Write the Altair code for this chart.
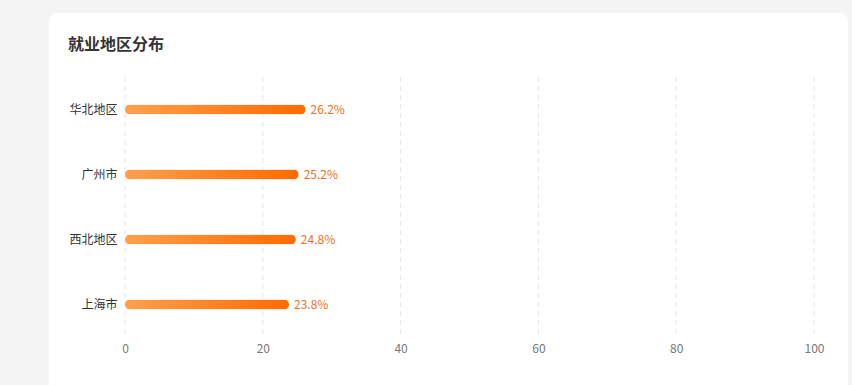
import altair as alt
import pandas as pd

regions = ["华北地区", "广州市", "西北地区", "上海市"]
shares = [26.2, 25.2, 24.8, 23.8]
x_ticks = [0, 20, 40, 60, 80, 100]
title_text = "就业地区分布"

df = pd.DataFrame({"region": regions, "share": shares})
df["label"] = df["share"].map(lambda v: f"{v:.1f}%")
grid_df = pd.DataFrame({"tick": x_ticks})

FONT = "Noto Sans CJK SC"

x_scale = alt.Scale(domain=[0, 100], nice=False)

card = alt.Chart(pd.DataFrame({"a": [0]})).mark_rect(
    color="white", cornerRadius=8
).encode(
    x=alt.value(-76), x2=alt.value(723), y=alt.value(-64), y2=alt.value(320)
)

title = alt.Chart(pd.DataFrame({"t": [title_text]})).mark_text(
    font=FONT, fontSize=16, fontWeight="bold", color="#333333", align="left", baseline="middle"
).encode(x=alt.value(-57), y=alt.value(-32), text="t:N")

grid = alt.Chart(grid_df).mark_rule(
    color="#e6e6e6", strokeDash=[5, 4], strokeWidth=1
).encode(
    x=alt.X("tick:Q", scale=x_scale,
            axis=alt.Axis(values=x_ticks, domain=False, ticks=False, grid=False, title=None,
                          labelFont=FONT, labelFontSize=12, labelColor="#777777",
                          labelFlush=False, labelPadding=6, zindex=1)),
    y=alt.value(0), y2=alt.value(260),
)

y_enc = alt.Y(
    "region:N", sort=regions, title=None,
    scale=alt.Scale(paddingInner=0, paddingOuter=0),
    axis=alt.Axis(domain=False, ticks=False, grid=False, labelFont=FONT, labelFontSize=12,
                  labelColor="#333333", labelPadding=8, zindex=1),
)

bars = alt.Chart(df).mark_bar(
    size=10, cornerRadius=5,
    color=alt.Gradient(
        gradient="linear", x1=0, x2=1, y1=0, y2=0,
        stops=[alt.GradientStop(color="#ffa04e", offset=0), alt.GradientStop(color="#ff6a00", offset=1)],
    ),
).encode(
    x=alt.X("share:Q", scale=x_scale, title=None),
    y=y_enc,
)

labels = alt.Chart(df).mark_text(
    align="left", baseline="middle", dx=5, font=FONT, fontSize=12, color="#f07023"
).encode(x=alt.X("share:Q", scale=x_scale), y=alt.Y("region:N", sort=regions), text="label:N")

chart = alt.layer(card, title, grid, bars, labels).properties(
    width=689, height=260, background="#f4f4f4",
    padding={"left": 125, "top": 77, "right": 38, "bottom": 48},
    autosize=alt.AutoSizeParams(type="none"),
).configure_view(stroke=None)

chart.save("out.html", embed_options={"renderer": "svg", "actions": False})
